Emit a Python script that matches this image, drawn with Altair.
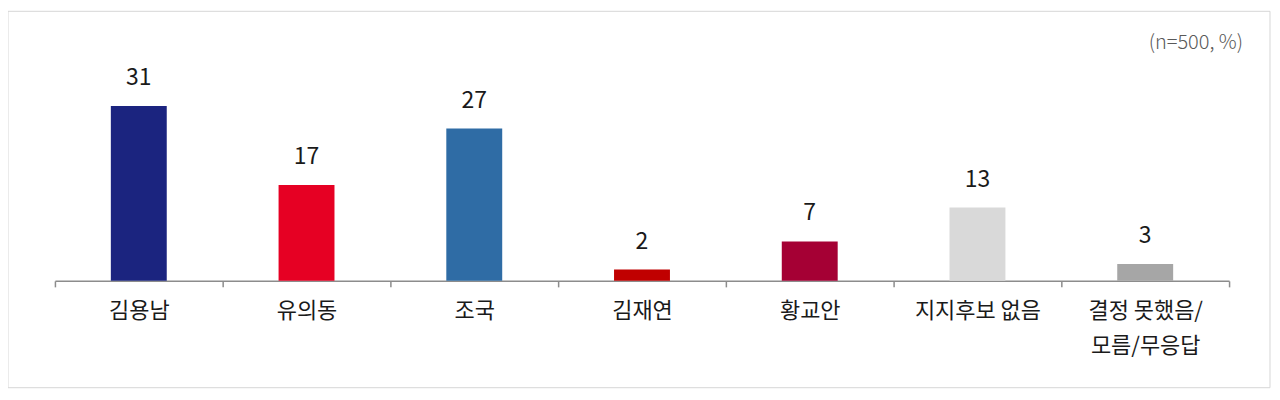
import altair as alt
import pandas as pd

categories = ["김용남", "유의동", "조국", "김재연", "황교안", "지지후보 없음", "결정 못했음/모름/무응답"]
values = [31, 17, 27, 2, 7, 13, 3]
colors = ["#1b247f", "#e60023", "#2f6ca5", "#c00000", "#a50034", "#d9d9d9", "#a6a6a6"]

df = pd.DataFrame({"cat": categories, "val": values, "color": colors})

FONT = "Noto Sans CJK KR"

x_enc = alt.X(
    "cat:N", sort=categories, title=None,
    scale=alt.Scale(paddingInner=0, paddingOuter=0),
    axis=alt.Axis(
        labelAngle=0, labelFont=FONT, labelFontSize=22, labelColor="#1a1a1a",
        labelPadding=14, tickSize=6, tickColor="#8c8c8c", tickWidth=1.5,
        domainColor="#8c8c8c", domainWidth=1.5, tickBand="extent",
        labelLineHeight=35, labelBaseline="top",
        labelExpr="datum.label == '결정 못했음/모름/무응답' ? ['결정 못했음/', '모름/무응답'] : datum.label",
    ),
)
y_enc = alt.Y("val:Q", scale=alt.Scale(domain=[0, 40]), axis=None)

base = alt.Chart(df)

bars = base.mark_bar(size=56).encode(
    x=x_enc, y=y_enc, color=alt.Color("color:N", scale=None)
)
labels = base.mark_text(
    dy=-21, baseline="alphabetic", font=FONT, fontSize=23, color="#1a1a1a"
).encode(x=alt.X("cat:N", sort=categories), y="val:Q", text="val:Q")

border = alt.Chart(pd.DataFrame({"k": [0]})).mark_rect(
    fill="transparent", stroke="#d6d6d6", strokeWidth=1
).encode(
    x=alt.value(-47), x2=alt.value(1217), y=alt.value(-44), y2=alt.value(333)
)

note = alt.Chart(pd.DataFrame({"t": ["(n=500, %)"]})).mark_text(
    align="right", baseline="middle", font=FONT, fontSize=20, color="#595959",
    fontWeight=300
).encode(x=alt.value(1190), y=alt.value(-12), text="t:N")

chart = alt.layer(border, bars, labels, note).properties(
    width=1176, height=226,
    padding={"left": 47, "top": 47, "right": 43, "bottom": 109},
    autosize=alt.AutoSizeParams(type="none"),
).configure_view(strokeWidth=0)

chart.save("out.html", embed_options={"renderer": "svg", "actions": False})
